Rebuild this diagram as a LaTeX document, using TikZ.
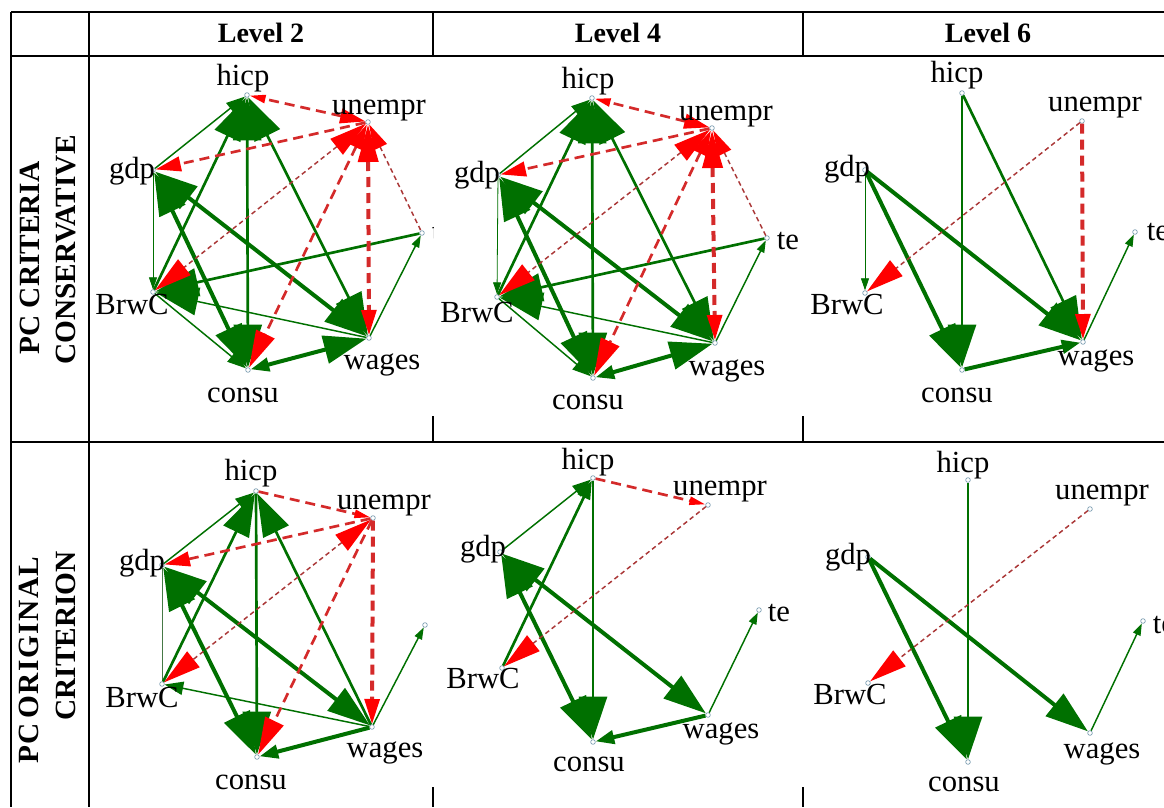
\documentclass[tikz,border=0pt]{standalone}
\usepackage{fontspec}
\setmainfont{Liberation Serif}
\usetikzlibrary{arrows.meta}

\definecolor{edgegreen}{RGB}{0,112,0}
\definecolor{edgered}{RGB}{212,42,42}
\definecolor{edgedarkred}{RGB}{170,55,55}
\definecolor{headred}{RGB}{255,0,0}
\definecolor{dotblue}{RGB}{120,155,175}

\tikzset{
  GL/.tip={Triangle[length=32pt,width=21pt]},
  GM/.tip={Triangle[length=14pt,width=10pt]},
  GS/.tip={Triangle[length=9pt,width=6pt]},
  RL/.tip={Triangle[length=28pt,width=15pt,color=headred]},
  RM/.tip={Triangle[length=19pt,width=11pt,color=headred]},
  RS/.tip={Triangle[length=12pt,width=6pt,color=headred]},
  grn/.style={draw=edgegreen},
  grey/.style={draw=edgegreen!45!gray},
  rdash/.style={draw=edgered, dash pattern=on 7.5pt off 4.5pt},
  rdot/.style={draw=edgedarkred, dash pattern=on 3.5pt off 2.5pt},
  wthick/.style={line width=3pt},
  wmed/.style={line width=2pt},
  wthin/.style={line width=1.1pt},
  whair/.style={line width=0.6pt},
  vtx/.style={circle, draw=dotblue, fill=white, inner sep=0pt, minimum size=3.5pt, line width=0.5pt},
  lbl/.style={font=\fontsize{23}{23}\selectfont, inner sep=0pt},
  hdr/.style={font=\bfseries\fontsize{21}{21}\selectfont, inner sep=0pt, anchor=base},
  rowlbl/.style={font=\bfseries\fontsize{22}{22}\selectfont, inner sep=0pt, rotate=90},
  cellrule/.style={line width=1.2pt, draw=black}
}

% vertices of one panel: prefix, then hicp, unempr, gdp, te, BrwC, consu, wages
\newcommand\panelvertices[8]{%
  \node[vtx] (#1hicp) at #2 {};
  \node[vtx] (#1unempr) at #3 {};
  \node[vtx] (#1gdp) at #4 {};
  \node[vtx] (#1te) at #5 {};
  \node[vtx] (#1BrwC) at #6 {};
  \node[vtx] (#1consu) at #7 {};
  \node[vtx] (#1wages) at #8 {};
}
% variable names of one panel, same order
\newcommand\panellabels[8]{%
  \node[lbl] (#1Lhicp) at #2 {hicp};
  \node[lbl] (#1Lunempr) at #3 {unempr};
  \node[lbl] (#1Lgdp) at #4 {gdp};
  \node[lbl] (#1Lte) at #5 {te};
  \node[lbl] (#1LBrwC) at #6 {BrwC};
  \node[lbl] (#1Lconsu) at #7 {consu};
  \node[lbl] (#1Lwages) at #8 {wages};
}

% full graph found by the conservative rule at levels 2 and 4
\newcommand\edgesfull[1]{%
  \draw[grn,wthin,-{GM}] (#1gdp) -- (#1hicp);
  \draw[grn,wmed,-{GL}] (#1BrwC) -- (#1hicp);
  \draw[grn,wmed,{GL}-{GL}] (#1hicp) -- (#1consu);
  \draw[grn,wmed,{GL}-{GL}] (#1hicp) -- (#1wages);
  \draw[grn,whair,-{GS}] (#1gdp) -- (#1BrwC);
  \draw[grn,wthick,{GL}-{GL}] (#1gdp) -- (#1consu);
  \draw[grn,wthick,{GL}-{GL}] (#1gdp) -- (#1wages);
  \draw[grn,wmed,-{GL}] (#1te) -- (#1BrwC);
  \draw[grn,wthin,-{GL}] (#1wages) -- (#1BrwC);
  \draw[grn,wthin,-{GM}] (#1BrwC) -- (#1consu);
  \draw[grn,wthick,{GM}-{GL}] (#1consu) -- (#1wages);
  \draw[grn,wthin,-{GS}] (#1wages) -- (#1te);
  \draw[rdash,wmed,{RM}-{RS}] (#1unempr) -- (#1hicp);
  \draw[rdash,wmed,-{RM}] (#1unempr) -- (#1gdp);
  \draw[rdot,wthin,{RL}-{RL}] (#1unempr) -- (#1BrwC);
  \draw[rdash,wmed,{RM}-{RL}] (#1unempr) -- (#1consu);
  \draw[rdash,wthick,{RL}-{RM}] (#1unempr) -- (#1wages);
  \draw[rdot,wthin,{RM}-] (#1unempr) -- (#1te);
}

\begin{document}
\begin{tikzpicture}[x=0.75pt,y=-0.75pt]
\useasboundingbox (0,0) rectangle (1164,807);

% ---------- table rules ----------
\draw[cellrule] (11,12) -- (1164,12);
\draw[cellrule] (11,12) -- (11,807);
\draw[cellrule] (11,56) -- (1164,56);
\draw[cellrule] (11,442) -- (1164,442);
\draw[cellrule] (89,12) -- (89,807);
\foreach \cx in {433,803}{
  \draw[cellrule] (\cx,12) -- (\cx,56);
  \draw[cellrule] (\cx,416) -- (\cx,442);
  \draw[cellrule] (\cx,787) -- (\cx,807);
}

% ---------- headings ----------
\node[hdr] (h2) at (261,42) {Level 2};
\node[hdr] (h4) at (618,42) {Level 4};
\node[hdr] (h6) at (988,42) {Level 6};
\node[rowlbl] (r1a) at (30,258) {PC CRITERIA};
\node[rowlbl] (r1b) at (66,250) {CONSERVATIVE};
\node[rowlbl] (r2a) at (29,660) {\addfontfeatures{LetterSpace=5}PC\hspace{0.15em}ORIGINAL};
\node[rowlbl] (r2b) at (66,636) {CRITERION};

% ---------- conservative, level 2 ----------
\begin{scope}
\clip (89,56) rectangle (433,440);
\panelvertices{a}{(247,95)}{(368,122)}{(153,170)}{(422,233)}{(153,292)}{(248,370)}{(369,338)}
\edgesfull{a}
\panellabels{a}{(243,78)}{(379,111)}{(132,171)}{(443,233)}{(132,304)}{(243,395)}{(382,365)}
\end{scope}

% ---------- conservative, level 4 ----------
\begin{scope}
\clip (433,56) rectangle (803,440);
\panelvertices{b}{(592,98)}{(712,128)}{(498,175)}{(767,238)}{(497,297)}{(593,378)}{(715,343)}
\edgesfull{b}
\panellabels{b}{(588,81)}{(726,117)}{(477,175)}{(788,241)}{(477,312)}{(588,402)}{(727,371)}
\end{scope}

% ---------- conservative, level 6 ----------
\begin{scope}
\clip (803,56) rectangle (1164,440);
\panelvertices{c}{(962,93)}{(1082,121)}{(865,170)}{(1135,232)}{(865,293)}{(962,370)}{(1083,342)}
\draw[grn,wmed,-{GL}] (chicp) -- (cconsu);
\draw[grn,wmed,-{GL}] (chicp) -- (cwages);
\draw[grn,whair,-{GS}] (cgdp) -- (cBrwC);
\draw[grn,wthick,-{GL}] (cgdp) -- (cconsu);
\draw[grn,wthick,-{GL}] (cgdp) -- (cwages);
\draw[grn,wthick,-{GM}] (cconsu) -- (cwages);
\draw[grn,wthin,-{GS}] (cwages) -- (cte);
\draw[rdot,wthin,-{RL}] (cunempr) -- (cBrwC);
\draw[rdash,wthick,-{RM}] (cunempr) -- (cwages);
\panellabels{c}{(957,75)}{(1095,108)}{(847,169)}{(1158,232)}{(847,304)}{(957,395)}{(1096,361)}
\end{scope}

% ---------- original, level 2 ----------
\begin{scope}
\clip (89,442) rectangle (433,807);
\panelvertices{d}{(256,491)}{(373,518)}{(162,565)}{(425,625)}{(162,684)}{(257,757)}{(372,727)}
\draw[grey,whair] (dgdp) -- (dBrwC);
\draw[grn,wthin,-{GM}] (dgdp) -- (dhicp);
\draw[grn,wmed,-{GL}] (dBrwC) -- (dhicp);
\draw[grn,wmed,-{GL}] (dwages) -- (dhicp);
\draw[grn,wmed,-{GL}] (dhicp) -- (dconsu);
\draw[grn,wthick,{GL}-{GL}] (dgdp) -- (dconsu);
\draw[grn,wthick,{GL}-{GL}] (dgdp) -- (dwages);
\draw[grn,wthick,-{GM}] (dwages) -- (dconsu);
\draw[grn,wthin,-{GM}] (dwages) -- (dBrwC);
\draw[grn,wthin,-{GS}] (dwages) -- (dte);
\draw[rdash,wmed,-{RS}] (dhicp) -- (dunempr);
\draw[rdash,wmed,-{RM}] (dunempr) -- (dgdp);
\draw[rdot,wthin,{RL}-{RL}] (dunempr) -- (dBrwC);
\draw[rdash,wmed,-{RL}] (dunempr) -- (dconsu);
\draw[rdash,wthick,-{RM}] (dunempr) -- (dwages);
\panellabels{d}{(251,473)}{(384,506)}{(142,563)}{(446,626)}{(142,697)}{(251,782)}{(385,753)}
\end{scope}

% ---------- original, level 4 ----------
\begin{scope}
\clip (433,442) rectangle (803,807);
\panelvertices{e}{(593,478)}{(708,505)}{(500,552)}{(759,610)}{(502,668)}{(593,742)}{(708,715)}
\draw[grn,wthin,-{GM}] (egdp) -- (ehicp);
\draw[grn,wmed,-{GM}] (eBrwC) -- (ehicp);
\draw[grn,wmed,-{GL}] (ehicp) -- (econsu);
\draw[grn,wthick,{GL}-{GL}] (egdp) -- (econsu);
\draw[grn,wthick,{GL}-{GL}] (egdp) -- (ewages);
\draw[grn,wthick,-{GM}] (ewages) -- (econsu);
\draw[grn,wthin,-{GS}] (ewages) -- (ete);
\draw[rdash,wmed,-{RS}] (ehicp) -- (eunempr);
\draw[rdot,wthin,-{RL}] (eunempr) -- (eBrwC);
\panellabels{e}{(588,462)}{(720,492)}{(483,549)}{(779,613)}{(483,678)}{(589,764)}{(721,734)}
\end{scope}

% ---------- original, level 6 ----------
\begin{scope}
\clip (803,442) rectangle (1164,807);
\panelvertices{f}{(968,480)}{(1090,509)}{(868,557)}{(1143,621)}{(868,683)}{(968,762)}{(1090,733)}
\draw[grn,wmed,-{GL}] (fhicp) -- (fconsu);
\draw[grn,wthick,-{GL}] (fgdp) -- (fconsu);
\draw[grn,wthick,-{GL}] (fgdp) -- (fwages);
\draw[grn,wthin,-{GS}] (fwages) -- (fte);
\draw[rdot,wthin,-{RL}] (funempr) -- (fBrwC);
\panellabels{f}{(963,465)}{(1102,496)}{(848,557)}{(1164,625)}{(850,694)}{(964,784)}{(1102,754)}
\end{scope}
\end{tikzpicture}
\end{document}
